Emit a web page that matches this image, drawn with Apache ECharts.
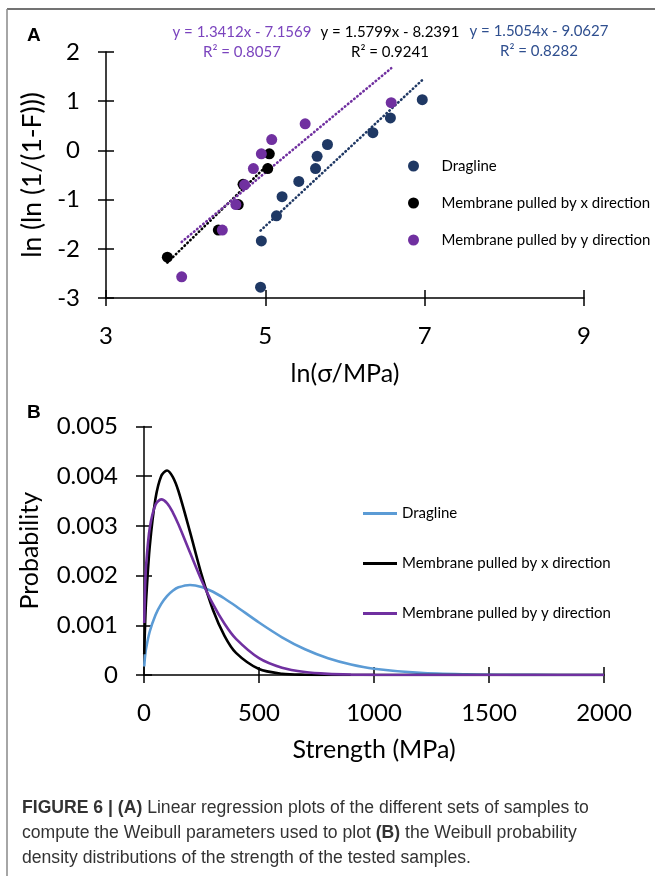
<!DOCTYPE html>
<html>
<head>
<meta charset="utf-8">
<script src="https://cdn.jsdelivr.net/npm/echarts@6/dist/echarts.min.js"></script>
<style>
html,body{margin:0;padding:0;background:#fff;}
#chart{width:655px;height:876px;}
</style>
</head>
<body>
<div id="chart"></div>
<script>
// ---------- Panel A data: ln(sigma) vs ln(ln(1/(1-F))) ----------
const seriesNames = ['Dragline', 'Membrane pulled by x direction', 'Membrane pulled by y direction'];
const draglineLnSigma = [6.97, 6.57, 6.35, 5.78, 5.65, 5.63, 5.42, 5.21, 5.14, 4.95, 4.94];
const draglineLnLn    = [1.03, 0.66, 0.36, 0.12, -0.12, -0.37, -0.63, -0.94, -1.33, -1.84, -2.78];
const membraneXLnSigma = [5.05, 5.03, 4.72, 4.66, 4.41, 3.77];
const membraneXLnLn    = [-0.07, -0.37, -0.69, -1.10, -1.62, -2.17];
const membraneYLnSigma = [6.58, 5.50, 5.08, 4.95, 4.85, 4.74, 4.63, 4.46, 3.95];
const membraneYLnLn    = [0.97, 0.54, 0.22, -0.07, -0.37, -0.70, -1.10, -1.62, -2.57];
// trendline end points
const draglineTrend  = [[4.94, -1.63], [6.97, 1.43]];
const membraneXTrend = [[3.77, -2.28], [5.05, -0.26]];
const membraneYTrend = [[3.95, -1.86], [6.58, 1.67]];
const equations = ['y = 1.3412x - 7.1569', 'y = 1.5799x - 8.2391', 'y = 1.5054x - 9.0627'];
const rSquared  = ['R\u00b2 = 0.8057', 'R\u00b2 = 0.9241', 'R\u00b2 = 0.8282'];

// ---------- Panel B data: Weibull probability density ----------
const strength = [1, 5, 10, 25, 50, 75, 100, 125, 150, 200, 250, 300, 350, 400, 500, 600, 700, 800, 900, 1000, 1200, 1400, 1600, 1800, 2000];
const draglinePdf  = [0.000175, 0.000393, 0.000557, 0.000875, 0.001209, 0.001432, 0.001589, 0.001696, 0.001764, 0.001812, 0.001773, 0.001675, 0.001539, 0.001383, 0.001056, 0.000759, 0.000517, 0.000337, 0.000211, 0.000127, 0.000042, 0.0000123, 0.0000032, 0.0000008, 0.0000001];
const membraneXPdf = [0.000417, 0.001058, 0.001570, 0.002586, 0.003550, 0.004005, 0.004116, 0.003987, 0.003697, 0.002880, 0.002024, 0.001308, 0.000788, 0.000445, 0.000120, 0.0000263, 0.0000048, 0.0000008, 0, 0, 0, 0, 0, 0, 0];
const membraneYPdf = [0.001045, 0.001798, 0.002255, 0.002958, 0.003426, 0.003534, 0.003458, 0.003274, 0.003028, 0.002464, 0.001908, 0.001424, 0.001030, 0.000726, 0.000338, 0.000146, 0.0000595, 0.0000229, 0.0000084, 0.0000029, 0.0000003, 0, 0, 0, 0];

const colA = ['#1F3864', '#000000', '#7030A0'];
const colB = ['#5B9BD5', '#000000', '#7030A0'];
const eqColors = ['#7B44BE', '#000000', '#2F4F8F'];
const FONT = 'Lato';
const CAPFONT = 'Liberation Sans';
const CAPSIZE = 17.6;

function zip(a, b) { return a.map((v, i) => [v, b[i]]); }

const axisLine = { show: true, onZero: false, lineStyle: { color: '#000', width: 1.5 } };
function mainAxis(extra) {
  return Object.assign({
    type: 'value', axisLine: axisLine,
    axisTick: { show: true, inside: false, length: 8, lineStyle: { color: '#000', width: 1.5 } },
    splitLine: { show: false },
    axisLabel: { color: '#000', fontFamily: FONT, fontSize: 24, margin: 26, formatter: v => String(v) },
    nameTextStyle: { color: '#000', fontFamily: FONT, fontSize: 25 }
  }, extra);
}
function tickAxis(extra) {
  return Object.assign({
    type: 'value', axisLine: { show: false, onZero: false },
    axisTick: { show: true, inside: true, length: 8, lineStyle: { color: '#000', width: 1.5 } },
    splitLine: { show: false }, axisLabel: { show: false }
  }, extra);
}

const chart = echarts.init(document.getElementById('chart'), null, { renderer: 'canvas' });

function legendA(i, top) {
  return {
    data: [seriesNames[i]], left: 403, top: top, itemWidth: 46, itemHeight: 11,
    icon: 'circle', selectedMode: false,
    textStyle: { color: '#000', fontFamily: FONT, fontSize: 15 }
  };
}
function legendB(i, top) {
  return {
    data: [{ name: seriesNames[i], icon: 'path://M0,0H34V3H0Z', itemStyle: { color: colB[i] } }],
    left: 358, top: top, itemWidth: 34, itemHeight: 14, selectedMode: false,
    textStyle: { color: '#000', fontFamily: FONT, fontSize: 15 }
  };
}
function capStyle(text) {
  return {
    text: text, fontFamily: CAPFONT, fontSize: CAPSIZE, fill: '#333', verticalAlign: 'middle',
    rich: { b: { fontWeight: 'bold', fontFamily: CAPFONT, fontSize: CAPSIZE, fill: '#333' } }
  };
}

const option = {
  backgroundColor: '#fff',
  animation: false,
  grid: [
    { left: 106, top: 52, width: 478, height: 246 },
    { left: 144, top: 426.5, width: 460, height: 248.5 }
  ],
  xAxis: [
    mainAxis({ gridIndex: 0, position: 'bottom', min: 3, max: 9, interval: 2, name: 'ln(\u03c3/MPa)', nameLocation: 'middle', nameGap: 63 }),
    tickAxis({ gridIndex: 0, position: 'bottom', min: 3, max: 9, interval: 2 }),
    mainAxis({ gridIndex: 1, position: 'bottom', min: 0, max: 2000, interval: 500, name: 'Strength (MPa)', nameLocation: 'middle', nameGap: 62 }),
    tickAxis({ gridIndex: 1, position: 'bottom', min: 0, max: 2000, interval: 500 })
  ],
  yAxis: [
    mainAxis({ gridIndex: 0, position: 'left', min: -3, max: 2, interval: 1, name: 'ln (ln (1/(1-F)))', nameLocation: 'middle', nameGap: 51,
      nameTextStyle: { color: '#000', fontFamily: FONT, fontSize: 26.5 } }),
    tickAxis({ gridIndex: 0, position: 'left', min: -3, max: 2, interval: 1 }),
    mainAxis({ gridIndex: 1, position: 'left', min: 0, max: 0.005, interval: 0.001, name: 'Probability', nameLocation: 'middle', nameGap: 102,
      axisLabel: { color: '#000', fontFamily: FONT, fontSize: 24, margin: 26, formatter: v => String(+v.toFixed(3)) } }),
    tickAxis({ gridIndex: 1, position: 'left', min: 0, max: 0.005, interval: 0.001 })
  ],
  legend: [
    legendA(0, 153.5), legendA(1, 190.5), legendA(2, 227.5),
    legendB(0, 501), legendB(1, 551), legendB(2, 601)
  ],
  series: [
    { name: seriesNames[0], type: 'scatter', xAxisIndex: 0, yAxisIndex: 0, data: zip(draglineLnSigma, draglineLnLn), symbolSize: 11, itemStyle: { color: colA[0], opacity: 1 }, z: 5 },
    { name: seriesNames[1], type: 'scatter', xAxisIndex: 0, yAxisIndex: 0, data: zip(membraneXLnSigma, membraneXLnLn), symbolSize: 11, itemStyle: { color: colA[1], opacity: 1 }, z: 5 },
    { name: seriesNames[2], type: 'scatter', xAxisIndex: 0, yAxisIndex: 0, data: zip(membraneYLnSigma, membraneYLnLn), symbolSize: 11, itemStyle: { color: colA[2], opacity: 1 }, z: 5 },
    { name: 'trend-dragline', type: 'line', xAxisIndex: 0, yAxisIndex: 0, data: draglineTrend, symbol: 'none', lineStyle: { color: colA[0], width: 2.6, type: [0.5, 3.5], cap: 'round' }, z: 3 },
    { name: 'trend-x', type: 'line', xAxisIndex: 0, yAxisIndex: 0, data: membraneXTrend, symbol: 'none', lineStyle: { color: colA[1], width: 2.6, type: [0.5, 3.5], cap: 'round' }, z: 3 },
    { name: 'trend-y', type: 'line', xAxisIndex: 0, yAxisIndex: 0, data: membraneYTrend, symbol: 'none', lineStyle: { color: colA[2], width: 2.6, type: [0.5, 3.5], cap: 'round' }, z: 3 },
    { name: seriesNames[0], type: 'line', xAxisIndex: 2, yAxisIndex: 2, data: zip(strength, draglinePdf), symbol: 'none', smooth: 0.3, lineStyle: { color: colB[0], width: 2.6 }, itemStyle: { color: colB[0] } },
    { name: seriesNames[1], type: 'line', xAxisIndex: 2, yAxisIndex: 2, data: zip(strength, membraneXPdf), symbol: 'none', smooth: 0.3, lineStyle: { color: colB[1], width: 2.6 }, itemStyle: { color: colB[1] } },
    { name: seriesNames[2], type: 'line', xAxisIndex: 2, yAxisIndex: 2, data: zip(strength, membraneYPdf), symbol: 'none', smooth: 0.3, lineStyle: { color: colB[2], width: 2.6 }, itemStyle: { color: colB[2] } }
  ],
  graphic: [
    // frame
    { type: 'line', shape: { x1: 7, y1: 9, x2: 655, y2: 9 }, style: { stroke: '#444', lineWidth: 1.5 } },
    { type: 'line', shape: { x1: 7, y1: 9, x2: 7, y2: 876 }, style: { stroke: '#888', lineWidth: 1.5 } },
    // panel letters
    { type: 'text', x: 27, y: 36, style: { text: 'A', fontFamily: 'Liberation Sans', fontWeight: 'bold', fontSize: 19, fill: '#000', verticalAlign: 'middle' } },
    { type: 'text', x: 27, y: 413, style: { text: 'B', fontFamily: 'Liberation Sans', fontWeight: 'bold', fontSize: 19, fill: '#000', verticalAlign: 'middle' } },
    // regression equations
    { type: 'text', x: 242, y: 32, style: { text: equations[0], fontFamily: FONT, fontSize: 15, fill: eqColors[0], align: 'center', verticalAlign: 'middle' } },
    { type: 'text', x: 242, y: 52, style: { text: rSquared[0], fontFamily: FONT, fontSize: 15, fill: eqColors[0], align: 'center', verticalAlign: 'middle' } },
    { type: 'text', x: 390, y: 32, style: { text: equations[1], fontFamily: FONT, fontSize: 15, fill: eqColors[1], align: 'center', verticalAlign: 'middle' } },
    { type: 'text', x: 390, y: 52, style: { text: rSquared[1], fontFamily: FONT, fontSize: 15, fill: eqColors[1], align: 'center', verticalAlign: 'middle' } },
    { type: 'text', x: 539, y: 31, style: { text: equations[2], fontFamily: FONT, fontSize: 15, fill: eqColors[2], align: 'center', verticalAlign: 'middle' } },
    { type: 'text', x: 539, y: 51, style: { text: rSquared[2], fontFamily: FONT, fontSize: 15, fill: eqColors[2], align: 'center', verticalAlign: 'middle' } },
    // caption
    { type: 'text', x: 22, y: 808, style: capStyle('{b|FIGURE 6 | (A)} Linear regression plots of the different sets of samples to') },
    { type: 'text', x: 22, y: 833, style: capStyle('compute the Weibull parameters used to plot {b|(B)} the Weibull probability') },
    { type: 'text', x: 22, y: 858, style: capStyle('density distributions of the strength of the tested samples.') }
  ]
};
chart.setOption(option);
</script>
</body>
</html>
